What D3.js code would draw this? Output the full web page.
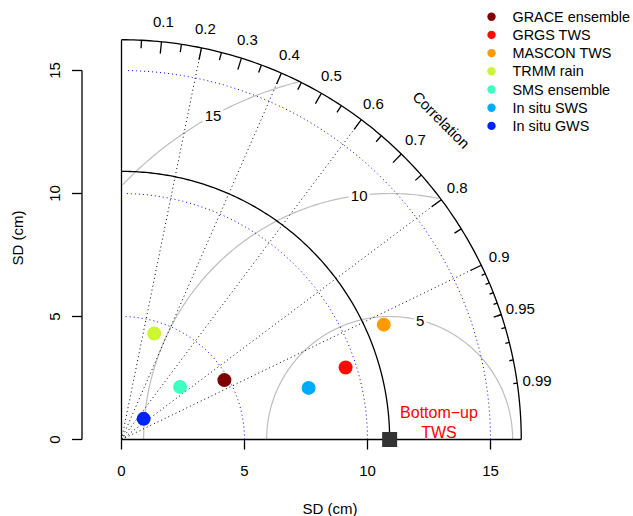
<!DOCTYPE html>
<html>
<head>
<meta charset="utf-8">
<script src="https://d3js.org/d3.v7.min.js"></script>
<style>
  body { margin: 0; background: #fff; }
  text { font-family: "Liberation Sans", Arial, sans-serif; }
</style>
</head>
<body>
<script>
// series: standard deviation (cm) and correlation with bottom-up TWS
var names = ["GRACE ensemble", "GRGS TWS", "MASCON TWS", "TRMM rain",
             "SMS ensemble", "In situ SWS", "In situ GWS"];
var sdValues = [4.83, 9.57, 11.64, 4.51, 3.20, 7.89, 1.23];
var corrValues = [0.866, 0.952, 0.916, 0.295, 0.744, 0.964, 0.731];
var colors = ["#7f0000", "#ff0a00", "#ff9a00", "#ccf533", "#3dffc3", "#00aaff", "#0022ff"];

var refSD = 10.9;
var refLabel = ["Bottom\u2212up", "TWS"];
var maxSD = 16.25;

var sdTicks = [0, 5, 10, 15];
var sdArcs = [5, 10, 15];
var rmsCircles = [5, 10, 15];
var corrLines = [0.2, 0.4, 0.6, 0.8, 0.9];
var corrLabels = [0.1, 0.2, 0.3, 0.4, 0.5, 0.6, 0.7, 0.8, 0.9, 0.95, 0.99];

var W = 633, H = 516;
var svg = d3.select("body").append("svg").attr("width", W).attr("height", H);

var x = d3.scaleLinear().domain([0, maxSD]).range([121.5, 121.5 + maxSD * 24.6]);
var y = d3.scaleLinear().domain([0, maxSD]).range([439.5, 439.5 - maxSD * 24.6]);

var line = d3.line().x(function(d) { return x(d[0]); }).y(function(d) { return y(d[1]); });

function arcPts(r, a0, a1, step) {
    var pts = d3.range(a0, a1, step).map(function(a) { return [r * Math.cos(a), r * Math.sin(a)]; });
    return pts;
}

// centred RMS difference circles
rmsCircles.forEach(function(g, gi) {
    var pts = d3.range(0, Math.PI + 0.001, 0.01).map(function(t) {
        return [refSD + g * Math.cos(t), g * Math.sin(t)];
    }).filter(function(p) {
        return p[0] >= 0 && p[0] * p[0] + p[1] * p[1] <= maxSD * maxSD;
    });
    svg.append("path").attr("d", line(pts)).attr("fill", "none")
        .attr("stroke", "#bebebe").attr("stroke-width", 1.2);
});

// SD arcs
sdArcs.forEach(function(s) {
    svg.append("path").attr("d", line(arcPts(s, 0, 1.5601, 0.03))).attr("fill", "none")
        .attr("stroke", "blue").attr("stroke-width", 1).attr("stroke-dasharray", "1,3");
});

// correlation rays
corrLines.forEach(function(c) {
    svg.append("path").attr("d", line([[0, 0], [maxSD * c, maxSD * Math.sqrt(1 - c * c)]]))
        .attr("stroke", "#000").attr("stroke-width", 1).attr("stroke-dasharray", "1,3");
});

// RMS labels (boxed)
var labelAngles = [44, 56.5, 69].map(function(i) { return i * 0.03; });
rmsCircles.forEach(function(g, gi) {
    var t = labelAngles[gi];
    var px = x(refSD + g * Math.cos(t)), py = y(g * Math.sin(t));
    var txt = svg.append("text").attr("x", px).attr("y", py).attr("text-anchor", "middle")
        .attr("dominant-baseline", "central").attr("font-size", 15).text(g);
    var bb = txt.node().getBBox();
    svg.insert("rect", "text").attr("x", bb.x - 2).attr("y", bb.y).attr("width", bb.width + 4)
        .attr("height", bb.height).attr("fill", "#fff");
});

// reference SD arc and outer arc
svg.append("path").attr("d", line(arcPts(refSD, 0, Math.PI / 2 + 0.0001, 0.01).concat([[0, refSD]])))
    .attr("fill", "none").attr("stroke", "#000").attr("stroke-width", 1.3);
svg.append("path").attr("d", line(arcPts(maxSD, 0, Math.PI / 2 + 0.0001, 0.01).concat([[0, maxSD]])))
    .attr("fill", "none").attr("stroke", "#000").attr("stroke-width", 1.3);

// correlation ticks
function tick(c, f) {
    var a = Math.acos(c);
    svg.append("line")
        .attr("x1", x(Math.cos(a) * maxSD)).attr("y1", y(Math.sin(a) * maxSD))
        .attr("x2", x(Math.cos(a) * f * maxSD)).attr("y2", y(Math.sin(a) * f * maxSD))
        .attr("stroke", "#000").attr("stroke-width", 1.3);
}
d3.range(1, 10).forEach(function(i) { tick(i / 10, 0.97); });
d3.range(0, 10).forEach(function(i) { tick(0.05 + i / 10, 0.98); });
d3.range(91, 100).forEach(function(i) { tick(i / 100, 0.99); });

corrLabels.forEach(function(c) {
    var a = Math.acos(c);
    svg.append("text").attr("x", x(Math.cos(a) * 1.05 * maxSD)).attr("y", y(Math.sin(a) * 1.05 * maxSD))
        .attr("text-anchor", "middle").attr("dominant-baseline", "central").attr("font-size", 15)
        .text(c);
});
svg.append("text").attr("transform", "translate(" + x(0.8 * maxSD) + "," + y(0.8 * maxSD) + ") rotate(45)")
    .attr("text-anchor", "middle").attr("dominant-baseline", "central").attr("font-size", 15)
    .text("Correlation");

// frame lines
svg.append("line").attr("x1", x(0)).attr("y1", y(0)).attr("x2", x(maxSD)).attr("y2", y(0))
    .attr("stroke", "#000").attr("stroke-width", 1.3);
svg.append("line").attr("x1", x(0)).attr("y1", y(0)).attr("x2", x(0)).attr("y2", y(maxSD))
    .attr("stroke", "#000").attr("stroke-width", 1.3);

// x axis
var xAxis = svg.append("g");
sdTicks.forEach(function(t) {
    xAxis.append("line").attr("x1", x(t)).attr("x2", x(t)).attr("y1", y(0)).attr("y2", y(0) + 10)
        .attr("stroke", "#000").attr("stroke-width", 1.3);
    xAxis.append("text").attr("x", x(t)).attr("y", 470).attr("text-anchor", "middle")
        .attr("dominant-baseline", "central").attr("font-size", 15).text(t);
});
svg.append("text").attr("x", 330).attr("y", 508).attr("text-anchor", "middle")
    .attr("dominant-baseline", "central").attr("font-size", 15).text("SD (cm)");

// y axis
var yAxis = svg.append("g");
yAxis.append("line").attr("x1", 82).attr("x2", 82).attr("y1", y(0)).attr("y2", y(15))
    .attr("stroke", "#000").attr("stroke-width", 1.3);
sdTicks.forEach(function(t) {
    yAxis.append("line").attr("x1", 82).attr("x2", 72).attr("y1", y(t)).attr("y2", y(t))
        .attr("stroke", "#000").attr("stroke-width", 1.3);
    yAxis.append("text").attr("transform", "translate(54," + y(t) + ") rotate(-90)")
        .attr("text-anchor", "middle").attr("dominant-baseline", "central").attr("font-size", 15).text(t);
});
svg.append("text").attr("transform", "translate(17,238) rotate(-90)").attr("text-anchor", "middle")
    .attr("dominant-baseline", "central").attr("font-size", 15).text("SD (cm)");

// model points
svg.selectAll(".pt").data(names).enter().append("circle")
    .attr("cx", function(d, i) { return x(sdValues[i] * corrValues[i]); })
    .attr("cy", function(d, i) { return y(sdValues[i] * Math.sqrt(1 - corrValues[i] * corrValues[i])); })
    .attr("r", 7).attr("fill", function(d, i) { return colors[i]; });

// reference point
svg.append("rect").attr("x", x(refSD) - 7.5).attr("y", y(0) - 7.5).attr("width", 15).attr("height", 15)
    .attr("fill", "#333");
refLabel.forEach(function(s, i) {
    svg.append("text").attr("x", 439).attr("y", 412.5 + i * 19.7).attr("text-anchor", "middle")
        .attr("dominant-baseline", "central").attr("font-size", 16).attr("fill", "#ff0000").text(s);
});

// legend
var legend = svg.append("g");
names.forEach(function(n, i) {
    var ly = 16.7 + i * 18.2;
    legend.append("circle").attr("cx", 491.5).attr("cy", ly).attr("r", 4.2).attr("fill", colors[i]);
    legend.append("text").attr("x", 512.5).attr("y", ly).attr("dominant-baseline", "central")
        .attr("font-size", 14.4).text(n);
});
</script>
</body>
</html>
